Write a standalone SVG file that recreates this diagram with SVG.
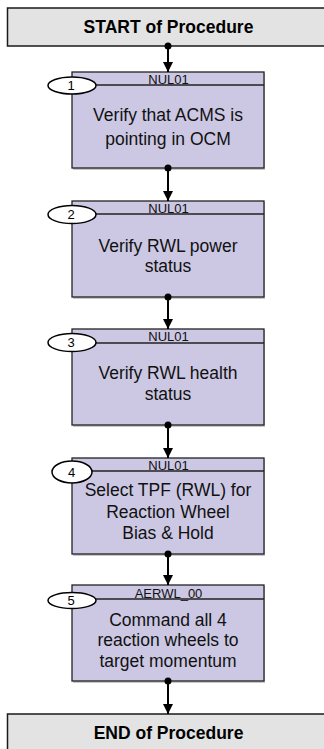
<svg xmlns="http://www.w3.org/2000/svg" width="324" height="749" viewBox="0 0 324 749">
<defs>
<style>
.term{fill:#e3e3e3;stroke:#1a1a1a;stroke-width:1.5}
.termt{font-family:"Liberation Sans",Arial,sans-serif;font-weight:bold;font-size:17.5px;fill:#000;text-anchor:middle}
.box{fill:#ccc8e4;stroke:#222;stroke-width:1.3}
.shadow{fill:#c8c8c8}
.hdr{stroke:#222;stroke-width:1.3}
.hdrt{font-family:"Liberation Sans",Arial,sans-serif;font-size:13px;fill:#111;text-anchor:middle}
.body{font-family:"Liberation Sans",Arial,sans-serif;font-size:17.5px;fill:#111;text-anchor:middle}
.ell{fill:#fff;stroke:#000;stroke-width:1.5}
.num{font-family:"Liberation Sans",Arial,sans-serif;font-size:13px;fill:#000;text-anchor:middle}
.conn{stroke:#000;stroke-width:2;fill:none}
.dot{fill:#000}
</style>
<marker id="arr" viewBox="0 0 10 10" refX="10" refY="5" markerWidth="10.5" markerHeight="11" markerUnits="userSpaceOnUse" orient="auto">
<path d="M0,0 L10,5 L0,10 z" fill="#000"/>
</marker>
</defs>

<g id="start">
<rect class="term" x="7.5" y="8" width="322" height="38"/>
<text class="termt" x="168.5" y="33.3">START of Procedure</text>
</g>

<g id="step1">
<rect class="shadow" x="73" y="73" width="192" height="97"/>
<rect class="box" x="72" y="72" width="192" height="96"/>
<line class="hdr" x1="72" y1="85" x2="264" y2="85"/>
<text class="hdrt" x="168.5" y="83.5">NUL01</text>
<text class="body" x="168" y="120.5">Verify that ACMS is</text>
<text class="body" x="168" y="145">pointing in OCM</text>
<ellipse class="ell" cx="72" cy="85.5" rx="24" ry="8.5"/>
<text class="num" x="71" y="90">1</text>
</g>

<g id="step2">
<rect class="shadow" x="73" y="202" width="192" height="97"/>
<rect class="box" x="72" y="201" width="192" height="96"/>
<line class="hdr" x1="72" y1="214" x2="264" y2="214"/>
<text class="hdrt" x="168.5" y="212.5">NUL01</text>
<text class="body" x="168" y="251.5">Verify RWL power</text>
<text class="body" x="168" y="272">status</text>
<ellipse class="ell" cx="72" cy="214.5" rx="24" ry="9"/>
<text class="num" x="71" y="219">2</text>
</g>

<g id="step3">
<rect class="shadow" x="73" y="330" width="192" height="97"/>
<rect class="box" x="72" y="329" width="192" height="96"/>
<line class="hdr" x1="72" y1="343" x2="264" y2="343"/>
<text class="hdrt" x="168.5" y="341">NUL01</text>
<text class="body" x="168" y="379.3">Verify RWL health</text>
<text class="body" x="168" y="399.5">status</text>
<ellipse class="ell" cx="72" cy="342.5" rx="24" ry="9"/>
<text class="num" x="71" y="347">3</text>
</g>

<g id="step4">
<rect class="shadow" x="73" y="459" width="192" height="97"/>
<rect class="box" x="72" y="458" width="192" height="96"/>
<line class="hdr" x1="72" y1="471" x2="264" y2="471"/>
<text class="hdrt" x="168.5" y="469.5">NUL01</text>
<text class="body" x="168" y="496">Select TPF (RWL) for</text>
<text class="body" x="168" y="517.5">Reaction Wheel</text>
<text class="body" x="168" y="539.3">Bias &amp; Hold</text>
<ellipse class="ell" cx="72" cy="472" rx="20" ry="11"/>
<text class="num" x="71.5" y="476.5">4</text>
</g>

<g id="step5">
<rect class="shadow" x="73" y="586" width="192" height="97"/>
<rect class="box" x="72" y="585" width="192" height="96"/>
<line class="hdr" x1="72" y1="599" x2="264" y2="599"/>
<text class="hdrt" x="168.5" y="597.5">AERWL_00</text>
<text class="body" x="168" y="625.7">Command all 4</text>
<text class="body" x="168" y="646.3">reaction wheels to</text>
<text class="body" x="168" y="667">target momentum</text>
<ellipse class="ell" cx="72" cy="600.5" rx="24" ry="8"/>
<text class="num" x="71" y="605">5</text>
</g>

<g id="end">
<rect class="term" x="7.5" y="714" width="322" height="40"/>
<text class="termt" x="168.5" y="738.5">END of Procedure</text>
</g>

<g id="connectors">
<circle class="dot" cx="168" cy="46" r="3.5"/>
<line class="conn" x1="168" y1="46" x2="168" y2="72" marker-end="url(#arr)"/>
<circle class="dot" cx="168" cy="168" r="3.5"/>
<line class="conn" x1="168" y1="168" x2="168" y2="201" marker-end="url(#arr)"/>
<circle class="dot" cx="168" cy="297" r="3.5"/>
<line class="conn" x1="168" y1="297" x2="168" y2="329" marker-end="url(#arr)"/>
<circle class="dot" cx="168" cy="425" r="3.5"/>
<line class="conn" x1="168" y1="425" x2="168" y2="458" marker-end="url(#arr)"/>
<circle class="dot" cx="168" cy="554" r="3.5"/>
<line class="conn" x1="168" y1="554" x2="168" y2="585" marker-end="url(#arr)"/>
<circle class="dot" cx="168" cy="681" r="3.5"/>
<line class="conn" x1="168" y1="681" x2="168" y2="714" marker-end="url(#arr)"/>
</g>
</svg>
